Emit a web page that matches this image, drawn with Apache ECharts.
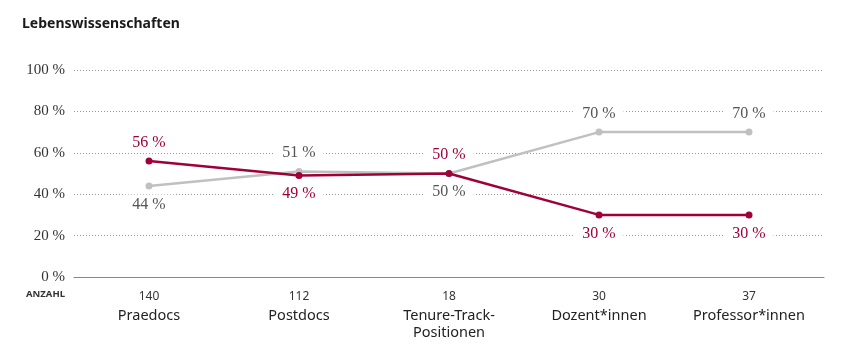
<!DOCTYPE html>
<html>
<head>
<meta charset="utf-8">
<script src="https://cdn.jsdelivr.net/npm/echarts@6/dist/echarts.min.js"></script>
<style>
  html, body { margin: 0; padding: 0; background: #fff; }
  #chart { width: 847px; height: 350px; }
</style>
</head>
<body>
<div id="chart"></div>
<script>
// Daten
const categories = ['Praedocs', 'Postdocs', 'Tenure-Track-\nPositionen', 'Dozent*innen', 'Professor*innen'];
const counts = [140, 112, 18, 30, 37];
const redValues = [56, 49, 50, 30, 30];
const grayValues = [44, 51, 50, 70, 70];
const yTicks = [0, 20, 40, 60, 80, 100];

const RED = '#a0003a';
const GRAY = '#c0c0c0';
const serif = '"Liberation Serif", "DejaVu Serif", serif';
const sans = '"Noto Sans", "Open Sans", sans-serif';

// label above if this series is the larger one at that point
function withLabels(values, other, color) {
    return values.map((v, i) => ({
        value: v,
        label: { position: v >= other[i] && !(v === other[i] && color === GRAY) ? 'top' : 'bottom' }
    }));
}

const chart = echarts.init(document.getElementById('chart'));

const labelBase = {
    show: true,
    fontFamily: serif,
    fontSize: 16,
    distance: 5,
    backgroundColor: '#fff',
    padding: [2, 8],
    formatter: p => p.value + ' %'
};

chart.setOption({
    animation: false,
    title: {
        text: 'Lebenswissenschaften',
        left: 22,
        top: 17,
        padding: 0,
        textStyle: { fontFamily: sans, fontWeight: 'bold', fontSize: 14, color: '#1a1a1a' }
    },
    graphic: [{
        type: 'text',
        right: 847 - 65,
        top: 289,
        style: { text: 'ANZAHL', fontFamily: sans, fontWeight: 'bold', fontSize: 9.5, fill: '#333', letterSpacing: 1.5 }
    }],
    grid: { left: 74, right: 23, top: 70, bottom: 73, containLabel: false },
    xAxis: {
        type: 'category',
        data: categories,
        boundaryGap: true,
        axisLine: { lineStyle: { color: '#888', width: 1 } },
        axisTick: { show: false },
        axisLabel: {
            interval: 0,
            margin: 10,
            formatter: (val, idx) => '{n|' + counts[idx] + '}\n' + val.split('\n').map(s => '{c|' + s + '}').join('\n'),
            rich: {
                n: { fontFamily: sans, fontSize: 12, color: '#333', lineHeight: 20 },
                c: { fontFamily: sans, fontSize: 14.5, color: '#222', lineHeight: 17 }
            }
        }
    },
    yAxis: {
        type: 'value',
        min: yTicks[0],
        max: yTicks[yTicks.length - 1],
        interval: 20,
        axisLabel: {
            margin: 9,
            fontFamily: serif,
            fontSize: 15,
            color: '#333',
            formatter: v => v + ' %'
        },
        splitLine: { lineStyle: { type: [1, 2], color: '#999', width: 1 } }
    },
    series: [
        {
            name: 'Männer',
            type: 'line',
            data: withLabels(grayValues, redValues, GRAY),
            symbol: 'circle',
            symbolSize: 7,
            lineStyle: { color: GRAY, width: 2.5 },
            itemStyle: { color: GRAY },
            label: Object.assign({}, labelBase, { color: '#555' }),
            z: 2
        },
        {
            name: 'Frauen',
            type: 'line',
            data: withLabels(redValues, grayValues, RED),
            symbol: 'circle',
            symbolSize: 7,
            lineStyle: { color: RED, width: 2.5 },
            itemStyle: { color: RED },
            label: Object.assign({}, labelBase, { color: RED }),
            z: 3
        }
    ]
});
</script>
</body>
</html>
